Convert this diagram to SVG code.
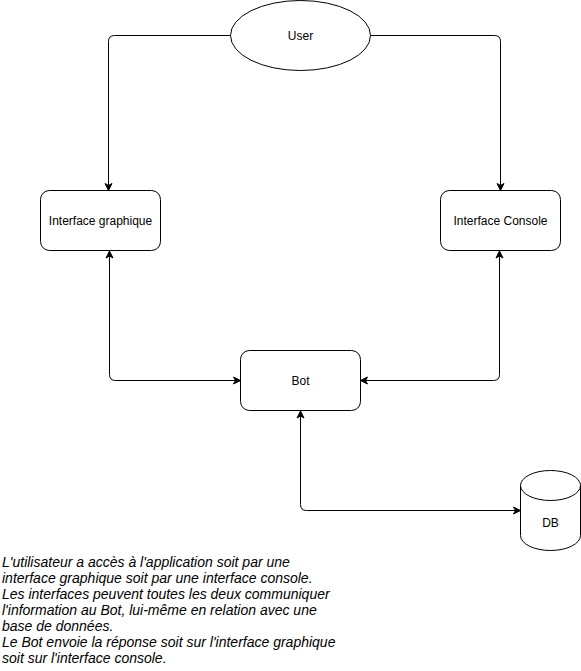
<svg xmlns="http://www.w3.org/2000/svg" width="581" height="671" viewBox="0 0 581 671">
  <defs>
    <style>
      .shape { fill: #ffffff; stroke: #000000; stroke-width: 1; }
      .edge { fill: none; stroke: #000000; stroke-width: 1; }
      .label { font-family: "Liberation Sans", Arial, Helvetica, sans-serif; font-size: 12px; fill: #000000; text-anchor: middle; }
      .note { font-family: "Liberation Sans", Arial, Helvetica, sans-serif; font-size: 14px; font-style: italic; fill: #000000; }
    </style>
    <marker id="arrow" viewBox="-3 -5 10 10" markerWidth="10" markerHeight="10" refX="0" refY="0" orient="auto-start-reverse" markerUnits="userSpaceOnUse">
      <path d="M5,0 L-2,-3.5 L0,0 L-2,3.5 Z" fill="#000000" stroke="#000000" stroke-width="1" stroke-linejoin="miter"/>
    </marker>
  </defs>

  <rect width="581" height="671" fill="#ffffff"/>

  <!-- connectors -->
  <g id="connectors">
    <path class="edge" d="M230.5,35.5 L114.5,35.5 Q108.5,35.5 108.5,41.5 L108.5,185.5" marker-end="url(#arrow)"/>
    <path class="edge" d="M370.5,35.5 L494.5,35.5 Q500.5,35.5 500.5,41.5 L500.5,185.5" marker-end="url(#arrow)"/>
    <path class="edge" d="M109.5,256 L109.5,374.5 Q109.5,380.5 115.5,380.5 L235.5,380.5" marker-start="url(#arrow)" marker-end="url(#arrow)"/>
    <path class="edge" d="M499.5,256 L499.5,374.5 Q499.5,380.5 493.5,380.5 L365.5,380.5" marker-start="url(#arrow)" marker-end="url(#arrow)"/>
    <path class="edge" d="M300.5,416 L300.5,504.5 Q300.5,510.5 306.5,510.5 L515.5,510.5" marker-start="url(#arrow)" marker-end="url(#arrow)"/>
  </g>

  <!-- nodes -->
  <g id="user">
    <ellipse class="shape" cx="300.5" cy="35.5" rx="70" ry="35"/>
    <text class="label" x="300.5" y="40">User</text>
  </g>

  <g id="interface-graphique">
    <rect class="shape" x="40.5" y="190.5" width="120" height="60" rx="9" ry="9"/>
    <text class="label" x="100.5" y="225">Interface graphique</text>
  </g>

  <g id="interface-console">
    <rect class="shape" x="440.5" y="190.5" width="120" height="60" rx="9" ry="9"/>
    <text class="label" x="500.5" y="225">Interface Console</text>
  </g>

  <g id="bot">
    <rect class="shape" x="240.5" y="350.5" width="120" height="60" rx="9" ry="9"/>
    <text class="label" x="300.5" y="385">Bot</text>
  </g>

  <g id="db">
    <path class="shape" d="M520.5,485.5 A30,15 0 0,1 580.5,485.5 L580.5,535.5 A30,15 0 0,1 520.5,535.5 Z"/>
    <path class="edge" d="M520.5,485.5 A30,15 0 0,0 580.5,485.5"/>
    <text class="label" x="550.5" y="527">DB</text>
  </g>

  <!-- description -->
  <g id="description">
    <text class="note" x="2" y="567">L'utilisateur a accès à l'application soit par une</text>
    <text class="note" x="2" y="583">interface graphique soit par une interface console.</text>
    <text class="note" x="2" y="599">Les interfaces peuvent toutes les deux communiquer</text>
    <text class="note" x="2" y="615">l'information au Bot, lui-même en relation avec une</text>
    <text class="note" x="2" y="631">base de données.</text>
    <text class="note" x="2" y="647">Le Bot envoie la réponse soit sur l'interface graphique</text>
    <text class="note" x="2" y="663">soit sur l'interface console.</text>
  </g>
</svg>
